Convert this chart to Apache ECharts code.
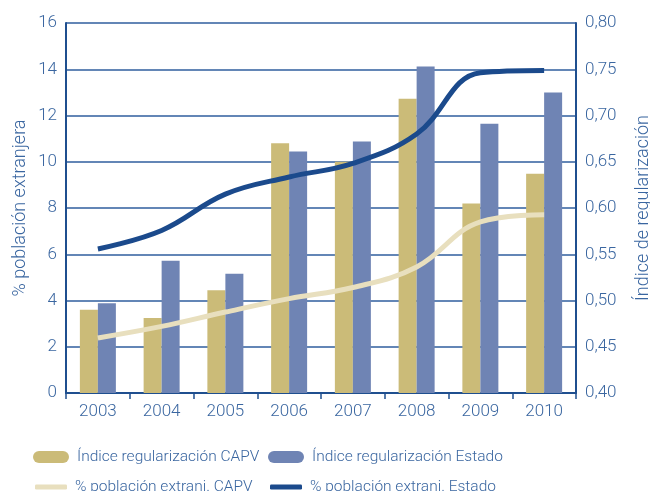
<!DOCTYPE html>
<html><head><meta charset="utf-8">
<script src="https://cdn.jsdelivr.net/npm/echarts@6/dist/echarts.min.js"></script>
<style>html,body{margin:0;padding:0;background:#fff}#c{width:650px;height:491px}</style>
</head><body><div id="c"></div>
<script>
var years = ['2003','2004','2005','2006','2007','2008','2009','2010'];
var indiceCAPV = [0.490, 0.481, 0.511, 0.670, 0.650, 0.718, 0.605, 0.637];
var indiceEstado = [0.497, 0.543, 0.529, 0.661, 0.672, 0.753, 0.691, 0.725];
var pobCAPV = [2.38, 2.88, 3.50, 4.08, 4.56, 5.45, 7.40, 7.71];
var pobEstado = [6.23, 7.03, 8.60, 9.34, 9.93, 11.2, 13.85, 13.95];
var leftTicks = {min: 0, max: 16, interval: 2};
var rightTicks = {min: 0.40, max: 0.80, interval: 0.05};

var txt = '#3a66a0', axisC = '#1f4f8f', gridC = '#2f5e9e';
var font = 'Roboto';
var fw = 300;
var pill = 'path://M6,0 H30 A6,6 0 0 1 30,12 H6 A6,6 0 0 1 6,0 Z';
var chart = echarts.init(document.getElementById('c'));
function lg(name, left, top, icon, h, w) {
  return {data: [name], left: left, top: top, icon: icon, itemWidth: w, itemHeight: h,
    itemGap: 0, textStyle: {color: txt, fontSize: 15.5, fontFamily: font, fontWeight: fw, padding: [0, 0, 0, 3]}, padding: 0};
}
chart.setOption({
  animation: false,
  textStyle: {fontFamily: font, fontWeight: fw},
  grid: {left: 66, right: 74, top: 23, bottom: 98, containLabel: false, outerBoundsMode: 'none'},
  legend: [
    lg('Índice regularización CAPV', 33, 449, pill, 12, 36),
    lg('Índice regularización Estado', 268, 449, pill, 12, 36),
    lg('% población extranj. CAPV', 35, 479, 'roundRect', 5, 32),
    lg('% población extranj. Estado', 270, 479, 'roundRect', 5, 32)
  ],
  xAxis: {type: 'category', data: years, boundaryGap: true,
    axisLine: {lineStyle: {color: axisC, width: 2}},
    axisTick: {show: true, length: 6, lineStyle: {color: axisC, width: 1.5}},
    axisLabel: {color: txt, fontSize: 17, fontWeight: fw, margin: 10}},
  yAxis: [
    {type: 'value', min: leftTicks.min, max: leftTicks.max, interval: leftTicks.interval,
      name: '% población extranjera', nameLocation: 'middle', nameGap: 37, nameRotate: 90,
      nameMoveOverlap: false,
      nameTextStyle: {color: txt, fontSize: 18, fontWeight: fw},
      axisLine: {show: true, lineStyle: {color: axisC, width: 2}}, axisTick: {show: false},
      axisLabel: {color: txt, fontSize: 17, fontWeight: fw, margin: 9},
      splitLine: {lineStyle: {color: gridC, width: 1.5}}},
    {type: 'value', min: rightTicks.min, max: rightTicks.max, interval: rightTicks.interval,
      name: 'Índice de regularización', nameLocation: 'middle', nameGap: 58, nameRotate: 90,
      nameMoveOverlap: false,
      nameTextStyle: {color: txt, fontSize: 18, fontWeight: fw},
      axisLine: {show: true, lineStyle: {color: axisC, width: 2}}, axisTick: {show: false},
      axisLabel: {color: txt, fontSize: 17, fontWeight: fw, margin: 9,
        formatter: function (v) { return v.toFixed(2).replace('.', ','); }},
      splitLine: {show: false}}
  ],
  series: [
    {name: 'Índice regularización CAPV', type: 'bar', yAxisIndex: 1, data: indiceCAPV,
      barWidth: 18, barGap: '0%', itemStyle: {color: '#cbbb78'}},
    {name: 'Índice regularización Estado', type: 'bar', yAxisIndex: 1, data: indiceEstado,
      barWidth: 18, barGap: '0%', itemStyle: {color: '#6f84b4'}},
    {name: '% población extranj. CAPV', type: 'line', yAxisIndex: 0, data: pobCAPV, smooth: 0.4,
      symbol: 'none', lineStyle: {color: '#e8dfbe', width: 5}, itemStyle: {color: '#e8dfbe'}},
    {name: '% población extranj. Estado', type: 'line', yAxisIndex: 0, data: pobEstado, smooth: 0.4,
      symbol: 'none', lineStyle: {color: '#1b4a8c', width: 5}, itemStyle: {color: '#1b4a8c'}}
  ]
});
</script></body></html>
